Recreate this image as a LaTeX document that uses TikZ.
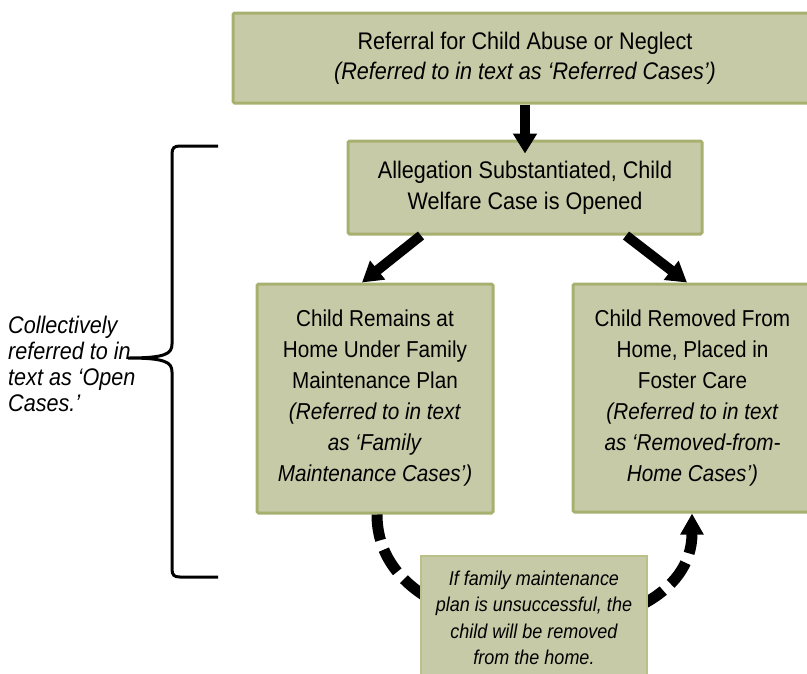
\documentclass[tikz,border=0pt]{standalone}
\usepackage{fontspec}
\setmainfont{Liberation Sans}[FakeStretch=0.9]
\usetikzlibrary{arrows.meta,calc}
\definecolor{boxfill}{RGB}{198,202,166}
\definecolor{boxline}{RGB}{168,176,112}
\definecolor{boxlinelight}{RGB}{186,192,136}
\begin{document}
\begin{tikzpicture}[x=1pt,y=-1pt,
  box/.style={draw=boxline,line width=3pt,fill=boxfill,rounded corners=1.5pt,align=center,inner sep=0pt,font=\fontsize{23}{31}\selectfont},
  notebox/.style={draw=boxlinelight,line width=1.5pt,fill=boxfill,align=center,inner sep=0pt,font=\itshape\fontsize{20}{26.5}\selectfont},
  bigarrow/.style={line width=10pt,-{Triangle[width=23pt,length=20pt]}},
  dasharrow/.style={line width=11pt,dash pattern=on 26pt off 10pt,-{Triangle[width=22pt,length=21pt]}},
  bracestyle/.style={line width=3pt}]
\useasboundingbox (0,0) rectangle (807,673);
\clip (0,0) rectangle (807,673);

\node[box,minimum width=584pt,minimum height=90pt,font=\fontsize{24}{30}\selectfont] (ref) at (525,58)
  {Referral for Child Abuse or Neglect\\\textit{(Referred to in text as ‘Referred Cases’)}};
\node[box,minimum width=354pt,minimum height=93pt,font=\fontsize{24}{31}\selectfont] (alleg) at (525,187.5)
  {Allegation Substantiated, Child\\Welfare Case is Opened};
\node[box,minimum width=236pt,minimum height=229pt] (fam) at (375,398.5)
  {Child Remains at\\Home Under Family\\Maintenance Plan\\\textit{(Referred to in text}\\\textit{as ‘Family}\\\textit{Maintenance Cases’)}};
\node[box,minimum width=239pt,minimum height=228pt] (rem) at (692.5,398)
  {Child Removed From\\Home, Placed in\\Foster Care\\\textit{(Referred to in text}\\\textit{as ‘Removed-from-}\\\textit{Home Cases’)}};

\draw[dasharrow] ([xshift=2pt]fam.south) .. controls +(0,146) and +(0,146) .. ([xshift=-0.5pt]rem.south);

\node[notebox,minimum width=226pt,minimum height=124pt] (note) at (534,618)
  {If family maintenance\\plan is unsuccessful, the\\child will be removed\\from the home.};

\draw[bigarrow] (ref.south) -- ([yshift=-14pt]alleg.north);
\draw[bigarrow] ([xshift=-104pt]alleg.south) -- ([xshift=-13pt]fam.north);
\draw[bigarrow] ([xshift=101pt]alleg.south) -- ([xshift=-5.5pt]rem.north);

\draw[bracestyle] (218,146) -- (180,146) .. controls (174,146) and (172,148) .. (172,154)
  -- (172,344) .. controls (172,354) and (165,358) .. (128,358)
  .. controls (165,358) and (172,362) .. (172,372)
  -- (172,569) .. controls (172,575) and (174,577) .. (180,577) -- (218,577);

\node[font=\itshape\fontsize{24}{26}\selectfont,align=left,anchor=west,inner sep=0pt] (coll) at (8,364)
  {Collectively\\referred to in\\text as ‘Open\\Cases.’};
\end{tikzpicture}
\end{document}
